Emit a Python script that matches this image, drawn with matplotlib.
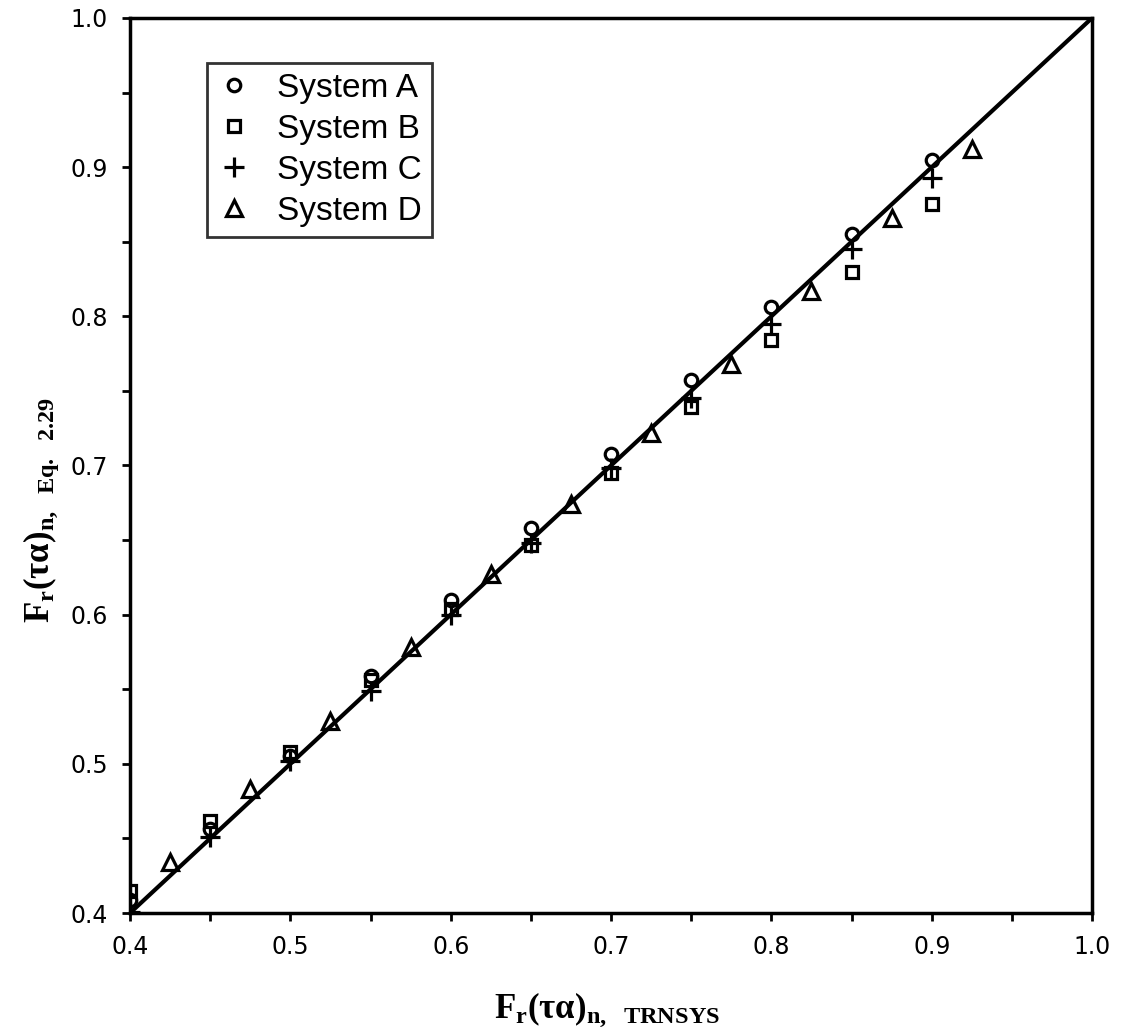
import numpy as np
import matplotlib
matplotlib.use("Agg")
import matplotlib.pyplot as plt
from matplotlib.ticker import MultipleLocator

plt.rcParams['font.family'] = ['Liberation Sans', 'DejaVu Sans']
plt.rcParams['mathtext.fontset'] = 'custom'
plt.rcParams['mathtext.rm'] = 'Liberation Serif:bold'
plt.rcParams['mathtext.it'] = 'Liberation Serif:bold'
plt.rcParams['mathtext.bf'] = 'Liberation Serif:bold'

# F_r(tau alpha)_n from TRNSYS (x) vs. Eq. 2.29 (y)
x_abc = [0.40, 0.45, 0.50, 0.55, 0.60, 0.65, 0.70, 0.75, 0.80, 0.85, 0.90]
y_a = [0.409, 0.456, 0.505, 0.559, 0.610, 0.658, 0.708, 0.757, 0.806, 0.855, 0.905]
y_b = [0.415, 0.462, 0.508, 0.556, 0.604, 0.647, 0.695, 0.739, 0.784, 0.830, 0.875]
y_c = [0.401, 0.451, 0.502, 0.549, 0.600, 0.648, 0.698, 0.745, 0.795, 0.845, 0.893]

x_d = [0.425, 0.475, 0.525, 0.575, 0.625, 0.675, 0.725, 0.775, 0.825, 0.875, 0.925]
y_d = [0.434, 0.483, 0.529, 0.578, 0.627, 0.674, 0.722, 0.768, 0.817, 0.866, 0.912]

labels = ['System A', 'System B', 'System C', 'System D']

fig = plt.figure(figsize=(11.22, 10.32), dpi=100)
ax = fig.add_axes([0.1159, 0.1153, 0.8574, 0.8673])

ax.plot([0.4, 1.0], [0.4, 1.0], color='black', lw=3, zorder=2)

mk = dict(linestyle='none', color='black', markerfacecolor='none', mew=2.3, zorder=3)
ax.plot(x_abc, y_a, marker='o', ms=9, label=labels[0], **mk)
ax.plot(x_abc, y_b, marker='s', ms=8, label=labels[1], **mk)
ax.plot(x_abc, y_c, marker='+', ms=14, label=labels[2], **mk)
ax.plot(x_d, y_d, marker='^', ms=12, label=labels[3], **mk)

ax.set_xlim(0.4, 1.0)
ax.set_ylim(0.4, 1.0)
ax.xaxis.set_major_locator(MultipleLocator(0.1))
ax.xaxis.set_minor_locator(MultipleLocator(0.05))
ax.yaxis.set_major_locator(MultipleLocator(0.1))
ax.yaxis.set_minor_locator(MultipleLocator(0.05))
ax.xaxis.set_major_formatter(plt.FuncFormatter(lambda v, p: f'{v:.1f}'))
ax.yaxis.set_major_formatter(plt.FuncFormatter(lambda v, p: f'{v:.1f}'))
ax.tick_params(which='both', direction='out', length=6, width=2, labelsize=17, pad=10)
for lab in ax.get_xticklabels() + ax.get_yticklabels():
    lab.set_fontfamily('DejaVu Sans')
for s in ax.spines.values():
    s.set_linewidth(2.5)

ax.set_xlabel(r'$\mathrm{F_r(\tau\alpha)_{n,\ \ TRNSYS}}$', fontsize=25)
ax.set_ylabel(r'$\mathrm{F_r(\tau\alpha)_{n,\ \ Eq.\ \ 2.29}}$', fontsize=25)
ax.xaxis.set_label_coords(0.496, -0.086)
ax.yaxis.set_label_coords(-0.072, 0.45)

leg = ax.legend(loc='upper left', bbox_to_anchor=(0.08, 0.95), borderaxespad=0,
                fontsize=24, frameon=True, fancybox=False, handlelength=1.0,
                handletextpad=0.8, labelspacing=0.3, borderpad=0.3, numpoints=1)
leg.get_frame().set_edgecolor('black')
leg.get_frame().set_linewidth(2)

fig.savefig('out.png', dpi=100)
